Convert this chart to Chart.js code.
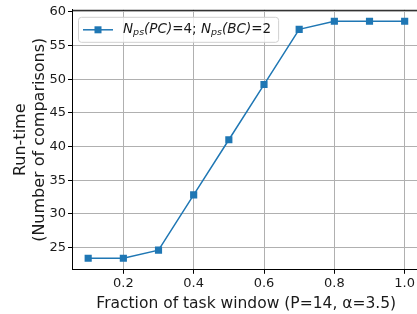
<!DOCTYPE html>
<html>
<head>
<meta charset="utf-8">
<script src="https://cdn.jsdelivr.net/npm/chart.js@4"></script>
<style>
  html, body { margin: 0; padding: 0; background: #fff; overflow: hidden; }
  #wrap { width: 426px; height: 314px; }
</style>
</head>
<body>
<div id="wrap"><canvas id="runtimeChart" width="426" height="314"></canvas></div>
<script>
const fractions = [0.1, 0.2, 0.3, 0.4, 0.5, 0.6, 0.7, 0.8, 0.9, 1.0];
const runtime = [23.4, 23.4, 24.6, 32.8, 41.0, 49.2, 57.4, 58.6, 58.6, 58.6];
const xTicks = [0.2, 0.4, 0.6, 0.8, 1.0];
const yTicks = [25, 30, 35, 40, 45, 50, 55, 60];

const blue = '#1f77b4';
const font = 'DejaVu Sans';

// matplotlib-like legend (with subscripts) and top/right spines
const legendPlugin = {
    id: 'mplLegend',
    afterDraw(chart) {
        const ctx = chart.ctx;
        const a = chart.chartArea;
        ctx.save();
        ctx.strokeStyle = '#000';
        ctx.lineWidth = 1;
        ctx.beginPath();
        ctx.moveTo(a.left, a.top + 0.5);
        ctx.lineTo(a.right, a.top + 0.5);
        ctx.moveTo(a.right - 0.5, a.top);
        ctx.lineTo(a.right - 0.5, a.bottom);
        ctx.stroke();

        const x0 = a.left + 6, y0 = a.top + 7;
        const h = 25;
        const parts = [
            ['N', 'italic 13.5px ' + font, 0],
            ['ps', 'italic 9.5px ' + font, 3],
            ['(PC)', 'italic 13.5px ' + font, 0],
            ['=4; ', '13.5px ' + font, 0],
            ['N', 'italic 13.5px ' + font, 0],
            ['ps', 'italic 9.5px ' + font, 3],
            ['(BC)', 'italic 13.5px ' + font, 0],
            ['=2', '13.5px ' + font, 0]
        ];
        let w = 0;
        parts.forEach(p => { ctx.font = p[1]; w += ctx.measureText(p[0]).width; });
        const boxW = 45 + w + 7;
        ctx.fillStyle = 'rgba(255,255,255,0.8)';
        ctx.strokeStyle = '#d0d0d0';
        ctx.beginPath();
        ctx.roundRect(x0 + 0.5, y0 + 0.5, boxW, h, 3);
        ctx.fill();
        ctx.stroke();
        const cy = y0 + h / 2 + 0.5;
        ctx.strokeStyle = blue;
        ctx.lineWidth = 1.5;
        ctx.beginPath();
        ctx.moveTo(x0 + 5, cy);
        ctx.lineTo(x0 + 35, cy);
        ctx.stroke();
        ctx.fillStyle = blue;
        ctx.fillRect(x0 + 20 - 3.5, cy - 3.5, 7, 7);
        ctx.fillStyle = '#1a1a1a';
        ctx.textBaseline = 'middle';
        let tx = x0 + 45;
        parts.forEach(p => {
            ctx.font = p[1];
            ctx.fillText(p[0], tx, cy + p[2]);
            tx += ctx.measureText(p[0]).width;
        });
        ctx.restore();
    }
};

new Chart(document.getElementById('runtimeChart'), {
    type: 'line',
    data: {
        datasets: [{
            label: 'Nps(PC)=4; Nps(BC)=2',
            data: fractions.map((f, i) => ({ x: f, y: runtime[i] })),
            borderColor: blue,
            backgroundColor: blue,
            borderWidth: 1.5,
            pointStyle: 'rect',
            pointRadius: 4,
            pointHoverRadius: 4,
            tension: 0
        }]
    },
    options: {
        responsive: false,
        animation: false,
        layout: { padding: { top: 8, right: 5, left: 0, bottom: 1 } },
        plugins: { legend: { display: false }, tooltip: { enabled: false } },
        scales: {
            x: {
                type: 'linear',
                min: 0.054,
                max: 1.045,
                afterBuildTicks: s => { s.ticks = xTicks.map(v => ({ value: v })); },
                grid: { color: '#b0b0b0', lineWidth: 1, tickLength: 4, tickColor: '#000', drawTicks: true },
                border: { color: '#000', width: 1 },
                ticks: {
                    color: '#1a1a1a', font: { family: font, size: 13 }, padding: 2,
                    maxRotation: 0, autoSkip: false,
                    callback: v => v.toFixed(1)
                },
                title: {
                    display: true,
                    text: 'Fraction of task window (P=14, \u03b1=3.5)',
                    color: '#1a1a1a', font: { family: font, size: 15.5 }, padding: { top: 1, bottom: 0 }
                }
            },
            y: {
                min: 21.68,
                max: 60.3,
                afterFit: s => { s.width = 72; },
                afterBuildTicks: s => { s.ticks = yTicks.map(v => ({ value: v })); },
                grid: { color: '#b0b0b0', lineWidth: 1, tickLength: 4, tickColor: '#000' },
                border: { color: '#000', width: 1 },
                ticks: { color: '#1a1a1a', font: { family: font, size: 13 }, padding: 2 },
                title: {
                    display: true,
                    text: ['Run-time', '(Number of comparisons)'],
                    color: '#1a1a1a', font: { family: font, size: 16, lineHeight: 1.2 }, padding: { top: 11, bottom: 0 }
                }
            }
        }
    },
    plugins: [legendPlugin]
});
</script>
</body>
</html>
